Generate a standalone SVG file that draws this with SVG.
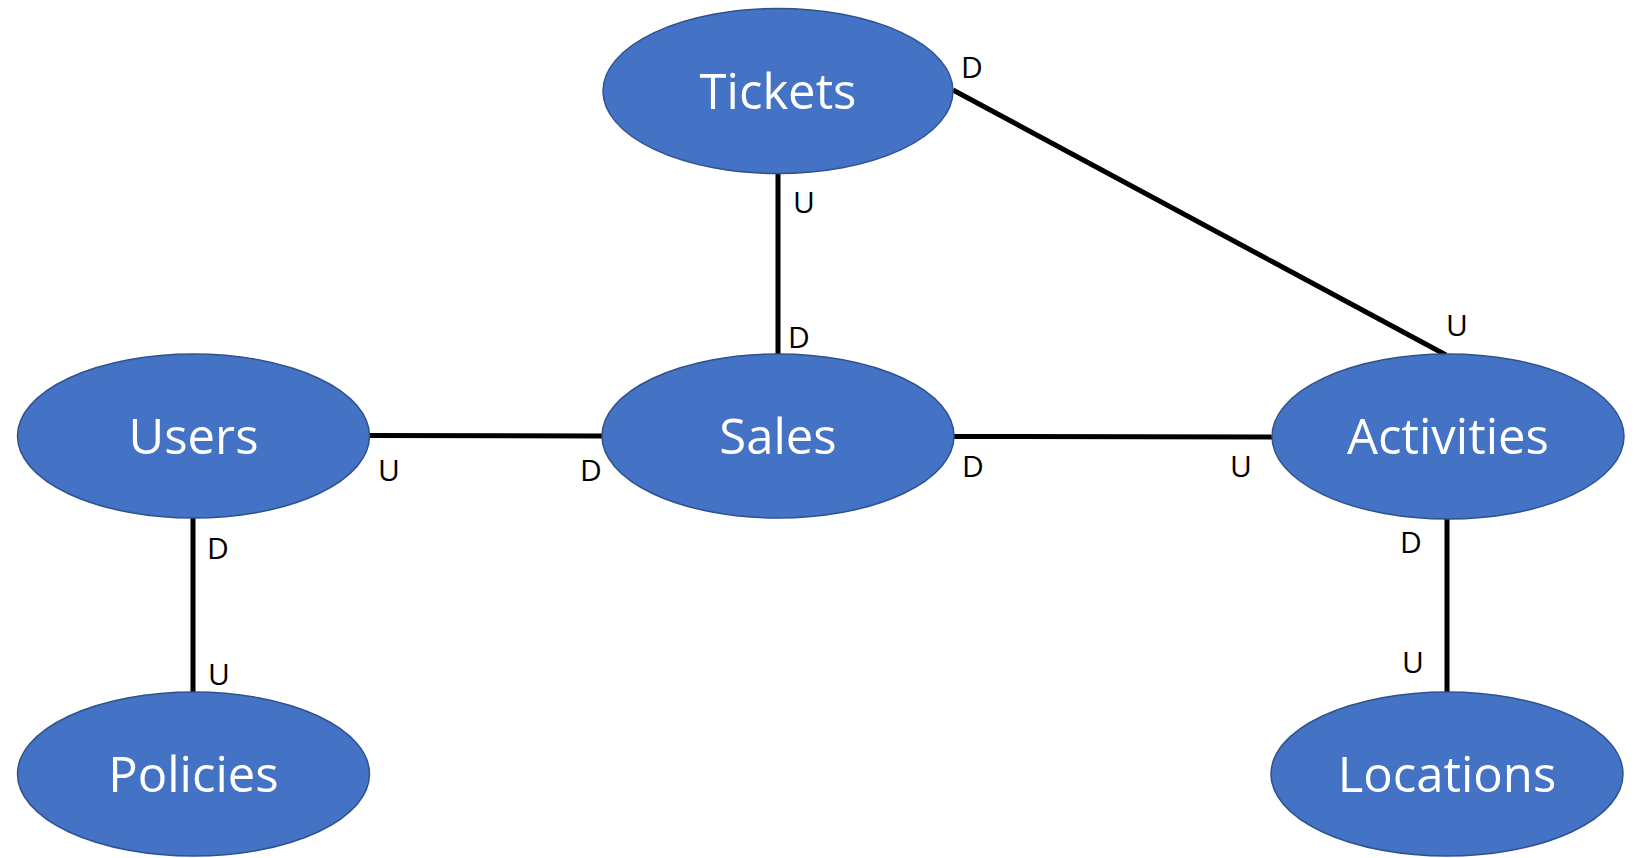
<svg xmlns="http://www.w3.org/2000/svg" width="1637" height="858" viewBox="0 0 1637 858">
<style>
.node ellipse{fill:#4472C4;stroke:#2F528F;stroke-width:1.5}
.node text{fill:#FFFFFF;font-family:"Open Sans","Liberation Sans",sans-serif;font-size:49px;text-anchor:middle}
.edges line{stroke:#000000;stroke-width:5;stroke-linecap:butt}
.lbl{fill:#000000;font-family:"Open Sans","Liberation Sans",sans-serif;font-size:30px}
</style>
<rect width="1637" height="858" fill="#FFFFFF"/>
<g id="connectors" class="edges">
<line x1="778" y1="173" x2="778" y2="355"/>
<line x1="953" y1="90" x2="1446" y2="355"/>
<line x1="369" y1="435.5" x2="603" y2="436"/>
<line x1="953" y1="436.5" x2="1273" y2="437"/>
<line x1="193" y1="518" x2="193" y2="692"/>
<line x1="1447" y1="518" x2="1447" y2="692"/>
</g>
<g id="node-tickets" class="node"><ellipse cx="778" cy="91" rx="175" ry="82.5"/><text x="778" y="108.5">Tickets</text></g>
<g id="node-users" class="node"><ellipse cx="193.5" cy="436" rx="176" ry="82"/><text x="193.5" y="453.5">Users</text></g>
<g id="node-sales" class="node"><ellipse cx="778" cy="436" rx="176" ry="82"/><text x="778" y="453.5">Sales</text></g>
<g id="node-activities" class="node"><ellipse cx="1448" cy="436.5" rx="176" ry="82.5"/><text x="1448" y="454">Activities</text></g>
<g id="node-policies" class="node"><ellipse cx="193.5" cy="774" rx="176" ry="82"/><text x="193.5" y="791.5">Policies</text></g>
<g id="node-locations" class="node"><ellipse cx="1447" cy="774" rx="176" ry="82"/><text x="1447" y="791.5">Locations</text></g>
<g id="labels">
<text class="lbl" x="961" y="78">D</text>
<text class="lbl" x="793" y="213">U</text>
<text class="lbl" x="788" y="348">D</text>
<text class="lbl" x="1446" y="336">U</text>
<text class="lbl" x="378" y="481">U</text>
<text class="lbl" x="580" y="481">D</text>
<text class="lbl" x="962" y="477">D</text>
<text class="lbl" x="1230" y="477">U</text>
<text class="lbl" x="207" y="559">D</text>
<text class="lbl" x="208" y="685">U</text>
<text class="lbl" x="1400" y="553">D</text>
<text class="lbl" x="1402" y="673">U</text>
</g>
</svg>
